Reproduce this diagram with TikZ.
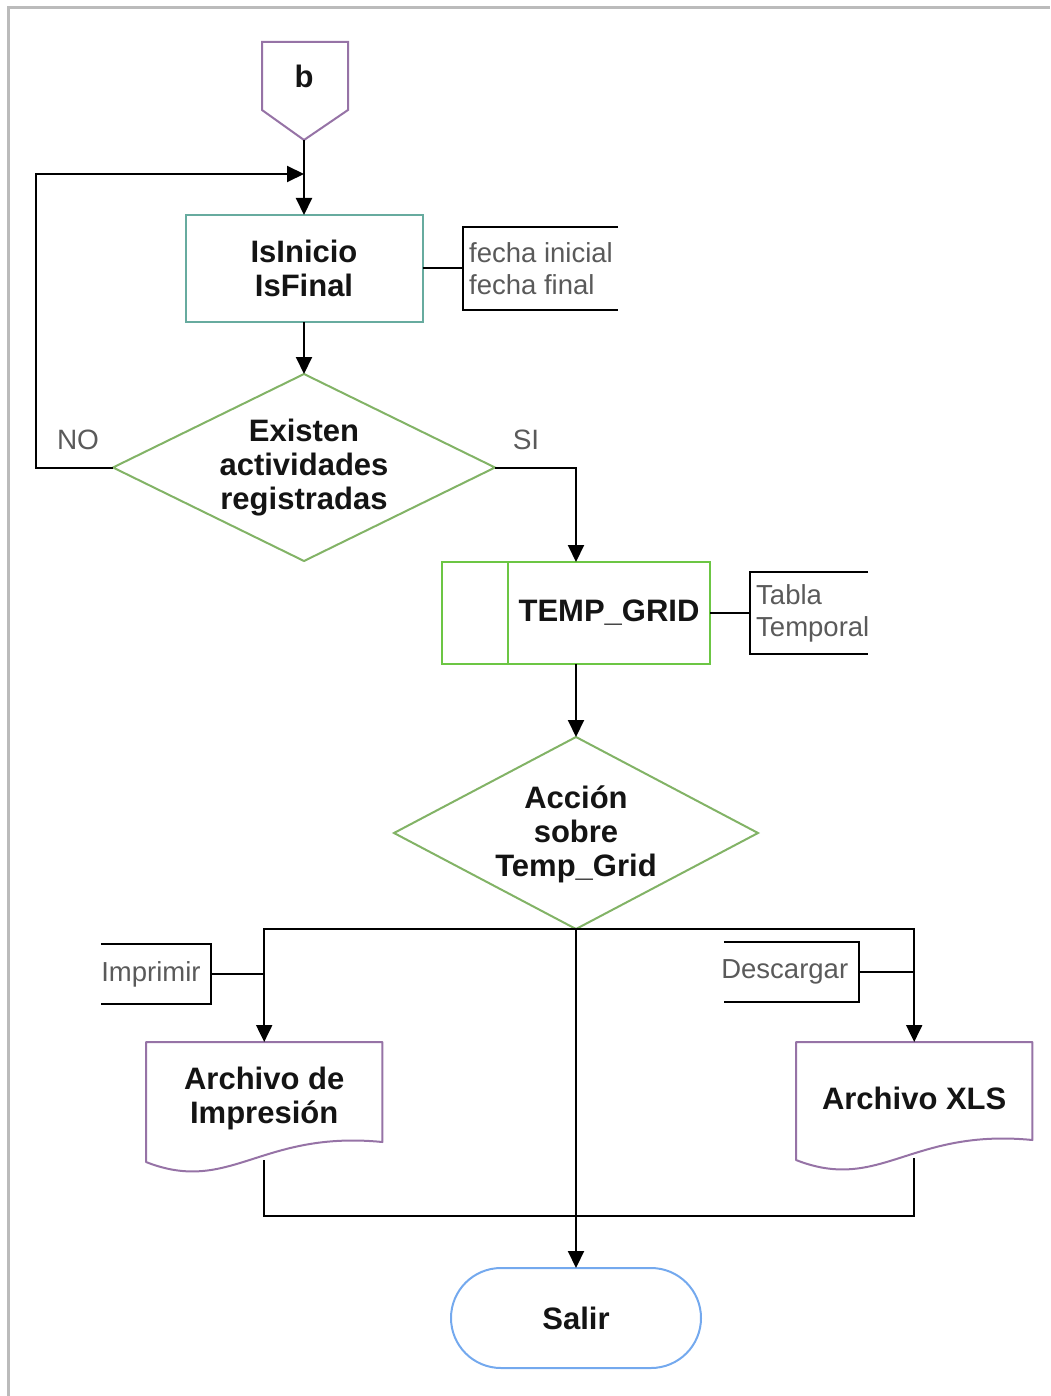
\documentclass[tikz,border=0pt]{standalone}
\usepackage{fontspec}
\setmainfont{Liberation Sans}
\usetikzlibrary{shapes.geometric,arrows.meta}

\definecolor{framegray}{HTML}{BBBBBB}
\definecolor{conpurple}{HTML}{9673A6}
\definecolor{procteal}{HTML}{67AB9F}
\definecolor{decgreen}{HTML}{82B366}
\definecolor{gridgreen}{HTML}{6CC644}
\definecolor{endblue}{HTML}{74A9EE}
\definecolor{ink}{HTML}{141414}
\definecolor{notegray}{HTML}{5A5A5A}

\begin{document}
\begin{tikzpicture}[x=1pt,y=-1pt,
  conn/.style={line width=2pt, draw=black},
  arr/.style={conn, -{Triangle[length=17pt,width=16pt]}},
  boldtxt/.style={font=\fontsize{31}{34}\selectfont\bfseries, text=ink, align=center},
  notetxt/.style={font=\fontsize{27.5}{32}\selectfont, text=notegray},
  procbox/.style={rectangle, line width=2pt, outer sep=0pt, boldtxt},
  decision/.style={diamond, draw=decgreen, line width=2pt, inner sep=0pt, outer sep=0pt},
  docline/.style={line width=2pt, draw=conpurple, line join=round}
]
\useasboundingbox (0,0) rectangle (1050,1396);

% page frame (top and left edges)
\draw[framegray, line width=3pt] (8,1396) -- (8,8) -- (1050,8);

% off-page connector "b"
\draw[line width=2pt, conpurple, line join=miter] (262,42) -- (348,42) -- (348,110) -- (304,140) -- (262,110) -- cycle;
\node[boldtxt] (b) at (304,76) {b};
\coordinate (btip) at (304,140);
\coordinate (join) at (304,174);

% IsInicio / IsFinal
\node[procbox, draw=procteal, minimum width=237, minimum height=107] (ini) at (304,268.5) {IsInicio\\IsFinal};
\node[notetxt, anchor=west, inner xsep=6pt, inner ysep=0pt, minimum height=82, align=left] (n1) at (463,268.5) {fecha inicial\\fecha final};
\draw[conn] ([xshift=155pt]n1.north west) -- (n1.north west) -- (n1.south west) -- ([xshift=155pt]n1.south west);
\draw[conn] (ini.east) -- (n1.west);

% first decision
\node[decision, minimum width=382, minimum height=187,
  label={[boldtxt]center:Existen\\actividades\\registradas}] (d1) at (304,467.5) {};
\node[notetxt, font=\fontsize{28}{32}\selectfont] (no) at (78,440) {NO};
\node[notetxt, font=\fontsize{28}{32}\selectfont] (si) at (526,440) {SI};

% TEMP_GRID
\node[procbox, draw=gridgreen, minimum width=268, minimum height=102,
  label={[boldtxt, xshift=33pt]center:TEMP\_GRID}] (tg) at (576,613) {};
\draw[line width=2pt, gridgreen] ([xshift=66pt]tg.north west) -- ([xshift=66pt]tg.south west);
\node[notetxt, anchor=west, inner xsep=6pt, inner ysep=0pt, minimum height=82, align=left] (n2) at (750,613) {Tabla\\Temporal};
\draw[conn] ([xshift=118pt]n2.north west) -- (n2.north west) -- (n2.south west) -- ([xshift=118pt]n2.south west);
\draw[conn] (tg.east) -- (n2.west);

% second decision
\node[decision, minimum width=364, minimum height=192,
  label={[boldtxt, yshift=-1pt]center:Acción\\sobre\\Temp\_Grid}] (d2) at (576,833) {};

% documents
\node[boldtxt, anchor=north west, minimum width=236, minimum height=112, inner sep=0pt] (da) at (146,1042) {Archivo de\\Impresión};
\draw[docline] (da.north west) -- (da.north east) -- ([yshift=-100pt]da.north east)
  .. controls +(-122,-12) and +(84,33) .. ([yshift=-120pt]da.north west) -- cycle;
\node[boldtxt, anchor=north west, minimum width=236, minimum height=112, inner sep=0pt] (db) at (796,1042) {Archivo XLS};
\draw[docline] (db.north west) -- (db.north east) -- ([yshift=-98pt]db.north east)
  .. controls +(-122,-12) and +(84,33) .. ([yshift=-118pt]db.north west) -- cycle;
\coordinate (dabot) at ([yshift=-118pt]da.north);
\coordinate (dbbot) at ([yshift=-116pt]db.north);

% action notes
\node[notetxt, minimum width=110, minimum height=60, inner sep=0pt] (n3) at (156,974) {};
\node[notetxt, anchor=west] (t3) at ([xshift=-3pt]n3.west) {Imprimir};
\draw[conn] (n3.north west) -- (n3.north east) -- (n3.south east) -- (n3.south west);
\node[notetxt, minimum width=135, minimum height=60, inner sep=0pt] (n4) at (791.5,972) {};
\node[notetxt, anchor=west] (t4) at ([xshift=-6pt]n4.west) {Descargar};
\draw[conn] (n4.north west) -- (n4.north east) -- (n4.south east) -- (n4.south west);
\coordinate (ea) at (264,974);
\coordinate (eb) at (914,972);
\draw[conn] (n3.east) -- (ea);
\draw[conn] (n4.east) -- (eb);

% end terminal
\node[procbox, draw=endblue, rounded corners=50pt, minimum width=250, minimum height=100] (salir) at (576,1318) {Salir};
\coordinate (merge) at (576,1216);

% connectors
\draw[arr] (btip) -- (ini.north);
\draw[arr] (d1.west) -- ++(-77,0) |- (join);
\draw[arr] (ini.south) -- (d1.north);
\draw[arr] (d1.east) -| (tg.north);
\draw[arr] (tg.south) -- (d2.north);
\draw[arr] (d2.south) -| (da.north);
\draw[arr] (d2.south) -| (db.north);
\draw[arr] (d2.south) -- (salir.north);
\draw[conn] (dabot) |- (merge);
\draw[conn] (dbbot) |- (merge);
\end{tikzpicture}
\end{document}
